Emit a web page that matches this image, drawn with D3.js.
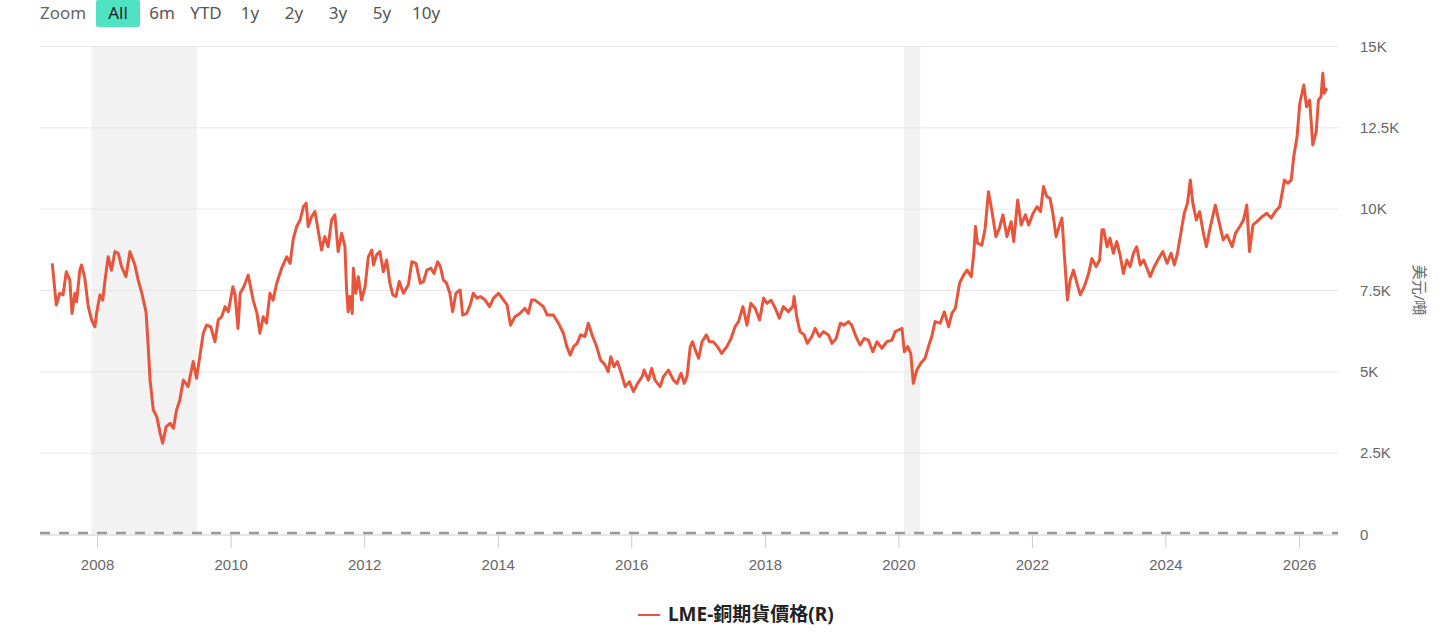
<!DOCTYPE html>
<html>
<head>
<meta charset="utf-8">
<script src="https://cdn.jsdelivr.net/npm/d3@7/dist/d3.min.js"></script>
<style>
body{margin:0;background:#fff;}
svg{display:block;font-family:"Noto Sans","Noto Sans CJK TC",sans-serif;}
</style>
</head>
<body>
<svg id="chart" width="1456" height="634"></svg>
<script>
/*圖表資料*/
var zoomLabels=["All","6m","YTD","1y","2y","3y","5y","10y"];
var yTickValues=[0,2500,5000,7500,10000,12500,15000];
var xTickYears=[2008,2010,2012,2014,2016,2018,2020,2022,2024,2026];
var recessionBands=[["2007-12-01","2009-06-30"],["2020-02-01","2020-04-30"]];
var seriesName="LME-銅期貨價格(R)";
var yAxisTitle="美元/噸";
var copperPrice=[
	["2007-05-01",8320],["2007-05-23",7040],["2007-06-11",7400],["2007-06-29",7350],["2007-07-17",8060],["2007-08-05",7810],
	["2007-08-17",6780],["2007-09-02",7400],["2007-09-11",7140],["2007-09-29",8110],["2007-10-08",8270],["2007-10-26",7870],
	["2007-11-14",6990],["2007-12-02",6580],["2007-12-20",6370],["2007-12-31",6830],
	["2008-01-17",7350],["2008-02-01",7190],["2008-02-14",7810],["2008-03-02",8520],["2008-03-20",8110],["2008-04-08",8680],
	["2008-04-26",8630],["2008-05-14",8220],["2008-06-07",7910],["2008-06-29",8680],["2008-07-26",8270],["2008-08-13",7810],
	["2008-09-02",7400],["2008-09-25",6830],["2008-10-07",5760],["2008-10-17",4730],["2008-11-04",3810],["2008-11-23",3600],
	["2008-12-11",3100],["2008-12-25",2790],
	["2009-01-13",3300],["2009-02-04",3400],["2009-02-22",3250],["2009-03-11",3810],["2009-03-29",4120],["2009-04-17",4730],
	["2009-05-13",4530],["2009-06-10",5300],["2009-06-28",4790],["2009-07-16",5450],["2009-08-04",6170],["2009-08-22",6420],
	["2009-09-14",6370],["2009-10-07",5910],["2009-10-25",6580],["2009-11-13",6680],["2009-12-01",6990],["2009-12-19",6830],
	["2010-01-13",7600],["2010-01-25",7350],["2010-02-10",6320],["2010-02-22",7400],["2010-03-14",7600],["2010-04-07",7960],
	["2010-05-04",7190],["2010-05-25",6780],["2010-06-10",6170],["2010-06-28",6680],["2010-07-16",6480],["2010-08-04",7400],
	["2010-08-21",7190],["2010-09-10",7710],["2010-10-07",8170],["2010-11-04",8520],["2010-11-22",8320],["2010-12-10",9090],
	["2010-12-28",9450],
	["2011-01-16",9650],["2011-02-03",10060],["2011-02-18",10170],["2011-03-01",9450],["2011-03-19",9750],["2011-04-07",9910],
	["2011-04-24",9350],["2011-05-13",8730],["2011-05-31",9140],["2011-06-18",8830],["2011-07-07",9650],["2011-07-25",9810],
	["2011-08-12",8680],["2011-08-31",9240],["2011-09-18",8830],["2011-09-27",7500],["2011-10-06",6830],["2011-10-15",7300],
	["2011-10-28",6780],["2011-11-03",8170],["2011-11-17",7400],["2011-11-30",7910],["2011-12-18",7190],
	["2012-01-06",7600],["2012-01-24",8520],["2012-02-12",8730],["2012-02-21",8270],["2012-03-09",8580],["2012-03-27",8680],
	["2012-04-15",8060],["2012-05-03",8420],["2012-05-21",7710],["2012-06-06",7350],["2012-06-23",7300],["2012-07-11",7760],
	["2012-08-03",7400],["2012-08-30",7660],["2012-09-18",8370],["2012-10-11",8320],["2012-11-03",7710],["2012-11-21",7760],
	["2012-12-09",8110],["2012-12-31",8170],
	["2013-01-18",8010],["2013-02-06",8370],["2013-02-21",8220],["2013-03-09",7810],["2013-03-27",7710],["2013-04-14",7400],
	["2013-04-29",6830],["2013-05-17",7400],["2013-06-09",7500],["2013-06-23",6730],["2013-07-15",6780],["2013-08-03",7040],
	["2013-08-20",7400],["2013-09-09",7250],["2013-09-27",7300],["2013-10-24",7190],["2013-11-17",6990],["2013-12-09",7250],
	["2014-01-05",7400],["2014-02-02",7190],["2014-02-21",7040],["2014-03-12",6420],["2014-04-05",6680],["2014-05-02",6780],
	["2014-05-29",6940],["2014-06-17",6780],["2014-07-05",7190],["2014-07-23",7190],["2014-08-16",7090],["2014-09-07",6990],
	["2014-09-29",6730],["2014-11-01",6730],["2014-11-29",6480],["2014-12-26",6170],
	["2015-01-14",5760],["2015-02-01",5500],["2015-02-20",5760],["2015-03-11",5860],["2015-03-30",6120],["2015-04-23",6070],
	["2015-05-11",6480],["2015-06-04",6070],["2015-06-26",5760],["2015-07-17",5350],["2015-08-10",5200],["2015-08-28",4990],
	["2015-09-11",5450],["2015-09-29",5140],["2015-10-17",5300],["2015-11-05",4990],["2015-11-29",4530],["2015-12-22",4680],
	["2016-01-13",4380],["2016-02-05",4630],["2016-03-01",4840],["2016-03-11",5040],["2016-04-04",4730],["2016-04-22",5090],
	["2016-05-10",4730],["2016-06-07",4530],["2016-06-25",4840],["2016-07-22",5040],["2016-08-19",4730],["2016-09-07",4630],
	["2016-09-29",4940],["2016-10-17",4630],["2016-11-01",4840],["2016-11-19",5760],["2016-12-01",5910],["2016-12-16",5660],
	["2017-01-04",5400],["2017-01-22",5910],["2017-02-15",6120],["2017-03-03",5910],["2017-03-25",5910],["2017-04-16",5760],
	["2017-05-10",5550],["2017-06-07",5760],["2017-06-30",6010],["2017-07-22",6370],["2017-08-10",6530],["2017-09-03",6990],
	["2017-09-25",6420],["2017-10-16",7090],["2017-11-09",6940],["2017-12-03",6580],["2017-12-25",7250],
	["2018-01-13",7090],["2018-02-04",7190],["2018-02-27",6940],["2018-03-21",6630],["2018-04-12",6990],["2018-05-09",6830],
	["2018-06-03",6990],["2018-06-10",7300],["2018-06-24",6680],["2018-07-12",6220],["2018-08-04",6120],["2018-08-21",5860],
	["2018-09-15",6070],["2018-10-03",6320],["2018-10-26",6070],["2018-11-18",6220],["2018-12-15",6120],
	["2019-01-03",5860],["2019-01-26",6010],["2019-02-18",6480],["2019-03-10",6420],["2019-04-03",6530],["2019-04-21",6420],
	["2019-05-14",6070],["2019-06-06",5810],["2019-06-28",6010],["2019-07-21",5960],["2019-08-14",5600],["2019-09-06",5910],
	["2019-10-03",5710],["2019-10-30",5910],["2019-11-27",5960],["2019-12-15",6220],
	["2020-01-02",6270],["2020-01-21",6320],["2020-02-03",5600],["2020-02-21",5760],["2020-03-09",5550],["2020-03-23",4630],
	["2020-04-11",5040],["2020-05-03",5250],["2020-05-26",5400],["2020-06-14",5760],["2020-07-02",6070],["2020-07-20",6530],
	["2020-08-17",6480],["2020-09-09",6830],["2020-10-02",6370],["2020-10-20",6780],["2020-11-08",6940],["2020-12-01",7710],
	["2020-12-23",7960],
	["2021-01-11",8110],["2021-02-03",7910],["2021-02-17",8630],["2021-02-26",9450],["2021-03-09",8940],["2021-04-02",8880],
	["2021-04-20",9400],["2021-05-08",10520],["2021-05-26",9960],["2021-06-18",9140],["2021-07-07",9400],["2021-07-26",9810],
	["2021-08-17",9140],["2021-09-09",9600],["2021-09-23",8990],["2021-10-15",10270],["2021-11-03",9500],["2021-11-26",9810],
	["2021-12-14",9500],
	["2022-01-07",9860],["2022-01-29",10060],["2022-02-17",9910],["2022-03-05",10680],["2022-03-23",10370],["2022-04-10",10320],
	["2022-04-25",9860],["2022-05-13",9140],["2022-06-01",9500],["2022-06-14",9710],["2022-06-26",8680],["2022-07-14",7190],
	["2022-07-29",7810],["2022-08-16",8110],["2022-09-04",7710],["2022-09-22",7350],["2022-10-14",7600],["2022-11-07",8010],
	["2022-11-25",8470],["2022-12-18",8220],
	["2023-01-06",8420],["2023-01-19",9350],["2023-01-28",9350],["2023-02-16",8830],["2023-03-04",9090],["2023-03-22",8630],
	["2023-04-10",8990],["2023-04-28",8580],["2023-05-16",8010],["2023-06-04",8420],["2023-06-22",8220],["2023-07-10",8630],
	["2023-07-28",8830],["2023-08-16",8270],["2023-09-04",8420],["2023-09-22",8170],["2023-10-10",7910],["2023-10-28",8170],
	["2023-11-25",8470],["2023-12-18",8680],
	["2024-01-10",8320],["2024-02-01",8630],["2024-02-19",8270],["2024-03-07",8630],["2024-03-25",9240],["2024-04-13",9860],
	["2024-05-01",10170],["2024-05-16",10880],["2024-05-30",10170],["2024-06-18",9650],["2024-07-06",9910],["2024-07-27",9240],
	["2024-08-12",8830],["2024-09-03",9450],["2024-09-30",10110],["2024-10-18",9650],["2024-11-12",9040],["2024-12-03",9190],
	["2024-12-31",8830],
	["2025-01-18",9240],["2025-02-11",9450],["2025-03-03",9650],["2025-03-21",10110],["2025-04-05",8680],["2025-04-24",9500],
	["2025-05-15",9600],["2025-06-12",9750],["2025-07-09",9860],["2025-08-01",9710],["2025-08-24",9910],["2025-09-17",10060],
	["2025-09-30",10470],["2025-10-13",10880],["2025-10-31",10780],["2025-11-19",10880],["2025-12-03",11600],["2025-12-21",12210],
	["2026-01-05",13240],["2026-01-27",13800],["2026-02-11",13130],["2026-02-28",13340],["2026-03-17",11960],["2026-04-05",12370],
	["2026-04-17",13340],["2026-05-01",13440],["2026-05-11",14160],["2026-05-18",13550],["2026-06-02",13700]
];

var lineColor="#e8553d";
var parseDate=d3.timeParse("%Y-%m-%d");
var svg=d3.select("#chart");
var plotL=40,plotR=1338,plotT=46,plotB=534;

var x=d3.scaleTime().domain([parseDate("2007-02-23"),parseDate("2026-08-02")]).range([plotL,plotR]);
var y=d3.scaleLinear().domain([0,15000]).range([plotB,plotT]);

function kFormat(v){
	if(v==0) return "0";
	return (v/1000)+"K";
}

/*衰退區間底色*/
function drawBands(obj){
	obj.selectAll(".band").data(recessionBands).enter().append("rect")
		.attr("class","band")
		.attr("x",function(d){return x(parseDate(d[0]));})
		.attr("y",plotT)
		.attr("width",function(d){return x(parseDate(d[1]))-x(parseDate(d[0]));})
		.attr("height",plotB-plotT)
		.attr("fill","#f2f2f2");
}

/*右側Y軸與格線*/
function drawYAxis(obj){
	var axis=d3.axisRight(y).tickValues(yTickValues).tickSize(plotR-plotL).tickFormat(kFormat);
	var g=obj.append("g").attr("transform","translate("+plotL+",0)").call(axis);
	g.select(".domain").remove();
	g.selectAll(".tick line").attr("stroke","#e6e6e6").attr("stroke-width",1);
	g.selectAll(".tick text").attr("x",plotR-plotL+22).attr("dy","0.34em")
		.attr("fill","#666").style("font-size","15px");
	g.selectAll(".tick").filter(function(d){return d==0;}).select("line").remove();
	obj.append("text").text(yAxisTitle)
		.attr("transform","translate(1414,290) rotate(90)")
		.attr("text-anchor","middle")
		.attr("fill","#666").style("font-size","15px");
}

/*下方X軸*/
function drawXAxis(obj){
	var ticks=xTickYears.map(function(yr){return new Date(yr,0,1);});
	var axis=d3.axisBottom(x).tickValues(ticks).tickSize(13).tickFormat(d3.timeFormat("%Y"));
	var g=obj.append("g").attr("transform","translate(0,"+(plotB+1)+")").call(axis);
	g.select(".domain").attr("stroke","#ccc").attr("d","M"+plotL+",0H"+plotR);
	g.selectAll(".tick line").attr("stroke","#ccc");
	g.selectAll(".tick text").attr("y",24).attr("fill","#666").style("font-size","15px");
	//零值虛線
	obj.append("line").attr("x1",plotL).attr("x2",plotR)
		.attr("y1",y(0)-1).attr("y2",y(0)-1)
		.attr("stroke","#999").attr("stroke-width",2.5)
		.attr("stroke-dasharray","10,9");
}

/*價格折線*/
function drawLine(obj){
	var line=d3.line()
		.x(function(d){return x(parseDate(d[0]));})
		.y(function(d){return y(d[1]);});
	obj.append("path").datum(copperPrice)
		.attr("d",line)
		.attr("fill","none")
		.attr("stroke",lineColor)
		.attr("stroke-width",3)
		.attr("stroke-linejoin","round");
}

/*縮放按鈕列*/
function drawZoomBar(obj){
	obj.append("text").text("Zoom").attr("x",40).attr("y",19)
		.attr("fill","#666").style("font-size","17px");
	var btn=obj.selectAll(".zbtn").data(zoomLabels).enter().append("g")
		.attr("class","zbtn")
		.attr("transform",function(d,i){return "translate("+(118+i*44)+",0)";});
	btn.filter(function(d,i){return i==0;}).append("rect")
		.attr("x",-22).attr("y",0).attr("width",44).attr("height",27).attr("rx",2)
		.attr("fill","#50e3c2");
	btn.append("text").text(function(d){return d;})
		.attr("y",19).attr("text-anchor","middle")
		.attr("fill",function(d,i){return i==0?"#222":"#555";})
		.style("font-size","17px");
}

/*圖例*/
function drawLegend(obj){
	obj.append("line").attr("x1",638).attr("x2",660).attr("y1",615).attr("y2",615)
		.attr("stroke",lineColor).attr("stroke-width",2);
	obj.append("text").text(seriesName).attr("x",668).attr("y",621)
		.attr("fill","#222").style("font-size","19px").style("font-weight","bold");
}

drawBands(svg);
drawYAxis(svg);
drawXAxis(svg);
drawLine(svg);
drawZoomBar(svg);
drawLegend(svg);
</script>
</body>
</html>
